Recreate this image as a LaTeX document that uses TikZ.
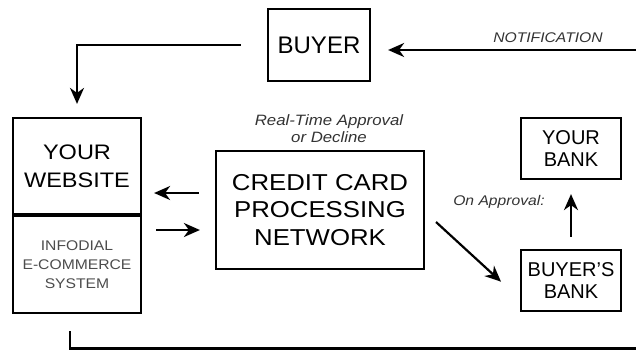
\documentclass[tikz,border=0pt]{standalone}
\usepackage{fontspec}
\setmainfont{Liberation Sans}
\newfontfamily\widefont{Liberation Sans}[FakeStretch=1.12]
\usetikzlibrary{arrows.meta, positioning}

\begin{document}
\begin{tikzpicture}[x=0.5pt, y=-0.5pt, line width=1.1pt,
  box/.style={draw, inner sep=0pt, align=center},
  flow/.style={-{Stealth[length=8pt, width=7pt, inset=2.5pt]}},
  remark/.style={inner sep=0pt, align=center, text=black!80, font=\widefont\itshape\fontsize{7}{8.5}\selectfont}]
\useasboundingbox (0,0) rectangle (636,349);

% Boxes
\node[box, minimum width=51pt, minimum height=36pt, font=\fontsize{12}{14}\selectfont] (buyer) at (319,45) {BUYER};
\node[box, minimum width=64pt, minimum height=48pt, font=\widefont\fontsize{10.5}{14}\selectfont] (website) at (77,166) {YOUR\\WEBSITE};
\node[box, minimum width=64pt, minimum height=48.5pt, below=0pt of website, text=black!70, font=\widefont\fontsize{7}{9.5}\selectfont] (infodial) {INFODIAL\\E-COMMERCE\\SYSTEM};
\node[box, minimum width=104pt, minimum height=59pt, font=\widefont\fontsize{11.5}{13.75}\selectfont] (network) at (320,210) {CREDIT CARD\\PROCESSING\\NETWORK};
\node[box, minimum width=50pt, minimum height=30.5pt, font=\fontsize{10}{11}\selectfont] (yourbank) at (571,148.5) {YOUR\\BANK};
\node[box, minimum width=50pt, minimum height=30.5pt, font=\fontsize{10}{11}\selectfont] (buyersbank) at (571,280.5) {BUYER'S\\BANK};

% Labels
\node[remark] (notiftext) at (548,38) {NOTIFICATION};
\node[remark, font=\widefont\itshape\fontsize{7.5}{8.5}\selectfont] (decision) at (329,129) {Real-Time Approval\\or Decline};
\node[remark] (onapproval) at (499,202) {On Approval:};

% Connectors
\coordinate (notifin) at (636,50);
\coordinate (loopout) at (636,348.5);
\draw[flow, shorten <=13pt, shorten >=6.5pt] (buyer.west) -| (website.north);
\draw[flow, shorten >=8.5pt] (notifin) -- ([yshift=-2.5pt]buyer.east);
\draw[flow, shorten <=8pt, shorten >=6pt] ([yshift=8.5pt]network.west) -- ([yshift=8.5pt]network.west -| website.east);
\draw[flow, shorten <=7pt, shorten >=7.5pt] ([yshift=-10pt]network.west -| infodial.east) -- ([yshift=-10pt]network.west);
\draw[flow, shorten <=7.4pt, shorten >=12.8pt] ([yshift=-1pt]network.east) -- ([yshift=-9.25pt]buyersbank.west);
\draw[flow, shorten <=6pt, shorten >=7pt] (buyersbank.north) -- (yourbank.south);
\draw[shorten <=8.5pt] ([xshift=-3.5pt]infodial.south) |- (loopout);
\end{tikzpicture}
\end{document}
